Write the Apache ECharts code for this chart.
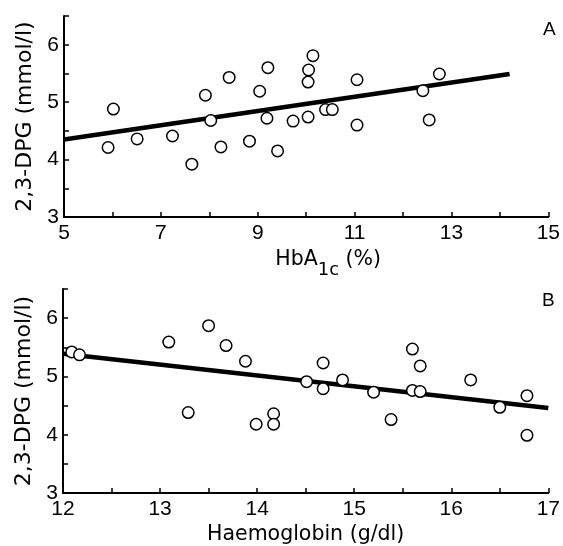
<!DOCTYPE html>
<html><head><meta charset="utf-8">
<script src="https://cdn.jsdelivr.net/npm/echarts@6/dist/echarts.min.js"></script>
<style>html,body{margin:0;padding:0;background:#fff}#c{width:563px;height:546px}</style>
</head><body><div id="c"></div>
<script>
// Panel A: HbA1c (%) vs 2,3-DPG (mmol/l)
const hbaX = [6.02,5.91,6.51,7.24,7.64,7.92,8.03,8.41,8.24,8.83,9.04,9.21,9.19,9.41,9.73,10.04,10.04,10.05,10.14,10.40,10.54,11.05,11.05,12.41,12.54,12.75];
const dpgA = [4.88,4.21,4.36,4.41,3.92,5.12,4.68,5.43,4.22,4.32,5.19,5.60,4.72,4.15,4.67,4.74,5.35,5.56,5.81,4.87,4.87,5.39,4.60,5.20,4.69,5.49];
const fitAX = [5, 14.2];
const fitAY = [4.35, 5.49];
// Panel B: Haemoglobin (g/dl) vs 2,3-DPG (mmol/l)
const hbX = [11.99,12.09,12.17,13.09,13.29,13.50,13.68,13.88,13.99,14.17,14.17,14.51,14.68,14.68,14.88,15.20,15.38,15.60,15.68,15.60,15.68,16.20,16.50,16.78,16.78];
const dpgB = [5.65,5.42,5.37,5.59,4.38,5.87,5.53,5.26,4.18,4.36,4.18,4.91,5.23,4.79,4.94,4.73,4.26,5.47,5.18,4.76,4.74,4.94,4.47,4.67,3.99];
const fitBX = [12, 17];
const fitBY = [5.39, 4.46];
// tick labels
const xLabelsA = [5,7,9,11,13,15];
const xLabelsB = [12,13,14,15,16,17];
const yLabels = [3,4,5,6];

const font = 'Liberation Sans, Arial, sans-serif';
const nameFont = 'DejaVu Sans, sans-serif';
const pair = (xs, ys) => xs.map((x, i) => [x, ys[i]]);

function xAxis(gi, min, max, interval, labels, name, gap, pad) {
  return {
    type: 'value', gridIndex: gi, min, max, interval,
    axisLine: {lineStyle: {color: '#000', width: 2}},
    axisTick: {inside: true, length: 5, lineStyle: {color: '#000', width: 1.5}},
    splitLine: {show: false},
    axisLabel: {color: '#000', fontSize: 21, fontFamily: font, margin: 6,
      formatter: v => labels.includes(Math.round(v*100)/100) ? String(v) : ''},
    name, nameLocation: 'middle', nameGap: gap,
    nameTextStyle: {color: '#000', fontSize: 20.5, fontFamily: nameFont, padding: pad,
      rich: {sub: {fontSize: 18, fontFamily: nameFont, color: '#000', verticalAlign: 'bottom', padding: [0,0,-9,0]}}}
  };
}
function yAxis(gi) {
  return {
    type: 'value', gridIndex: gi, min: 3, max: 6.5, interval: 0.5,
    axisLine: {lineStyle: {color: '#000', width: 2}},
    axisTick: {inside: true, length: 5, lineStyle: {color: '#000', width: 1.5}},
    splitLine: {show: false},
    axisLabel: {color: '#000', fontSize: 21, fontFamily: font, margin: 5,
      formatter: v => yLabels.includes(v) ? String(v) : ''},
    name: '2,3-DPG (mmol/l)', nameLocation: 'middle', nameGap: 28,
    nameTextStyle: {color: '#000', fontSize: 22, fontFamily: nameFont}
  };
}
const scatterStyle = {
  type: 'scatter', symbol: 'circle', symbolSize: 11.5, z: 3,
  itemStyle: {color: '#fff', borderColor: '#000', borderWidth: 1.5, opacity: 1},
  emphasis: {disabled: true}
};
const lineStyle = {
  type: 'line', symbol: 'none', z: 2, lineStyle: {color: '#000', width: 4.5}, silent: true
};

const chart = echarts.init(document.getElementById('c'), null, {renderer: 'canvas'});
chart.setOption({
  animation: false,
  backgroundColor: '#fff',
  grid: [
    {left: 64, top: 16, width: 488, height: 201},
    {left: 63, top: 289, width: 490, height: 204}
  ],
  xAxis: [
    xAxis(0, 5, 15, 1, xLabelsA, 'HbA{sub|1c} (%)', 32, [0,0,0,44]),
    xAxis(1, 12, 17, 0.5, xLabelsB, 'Haemoglobin (g/dl)', 31, 0)
  ],
  yAxis: [yAxis(0), yAxis(1)],
  graphic: [
    {type: 'text', left: 543, top: 20, style: {text: 'A', fontSize: 19, fontFamily: font, fill: '#000'}},
    {type: 'text', left: 542, top: 291, style: {text: 'B', fontSize: 19, fontFamily: font, fill: '#000'}}
  ],
  series: [
    Object.assign({}, lineStyle, {xAxisIndex: 0, yAxisIndex: 0, data: pair(fitAX, fitAY)}),
    Object.assign({}, scatterStyle, {xAxisIndex: 0, yAxisIndex: 0, data: pair(hbaX, dpgA)}),
    Object.assign({}, lineStyle, {xAxisIndex: 1, yAxisIndex: 1, data: pair(fitBX, fitBY)}),
    Object.assign({}, scatterStyle, {xAxisIndex: 1, yAxisIndex: 1, data: pair(hbX, dpgB)})
  ]
});
</script></body></html>
